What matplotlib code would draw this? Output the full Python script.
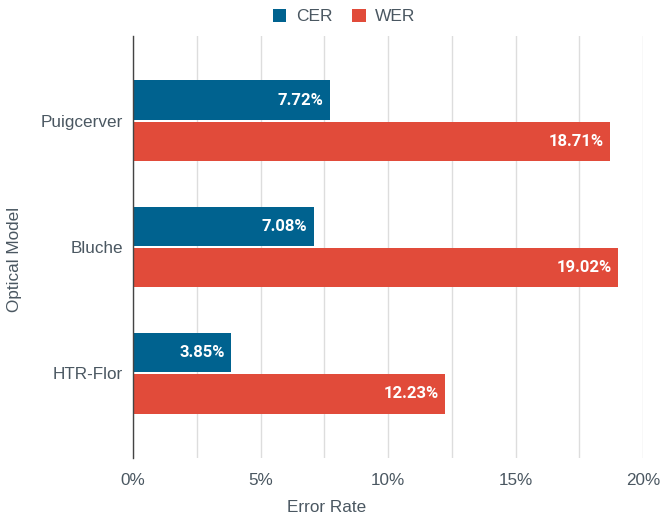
import matplotlib
matplotlib.use("Agg")
import matplotlib.pyplot as plt
import numpy as np
from matplotlib.ticker import MultipleLocator, FuncFormatter

models = ["Puigcerver", "Bluche", "HTR-Flor"]
cer = [7.72, 7.08, 3.85]
wer = [18.71, 19.02, 12.23]
series_names = ["CER", "WER"]

plt.rcParams['font.family'] = ['Liberation Sans', 'DejaVu Sans']
txt = '#4a5761'
c_cer = '#00628f'
c_wer = '#e14b3a'

fig = plt.figure(figsize=(6.6, 5.21), dpi=100)
ax = fig.add_axes([133/660, 63/521, 510/660, 422/521])

y = np.arange(len(models))
h = 0.31
gap = 0.008
b1 = ax.barh(y - h/2 - gap, cer, height=h, color=c_cer, label=series_names[0])
b2 = ax.barh(y + h/2 + gap, wer, height=h, color=c_wer, label=series_names[1])

for bars, vals in ((b1, cer), (b2, wer)):
    for r, v in zip(bars, vals):
        ax.text(v - 0.25, r.get_y() + r.get_height()/2, f"{v:.2f}%", ha='right', va='center',
                color='white', fontsize=12, fontweight='bold', family=['Roboto', 'DejaVu Sans'])

ax.set_xlim(0, 20)
ax.set_ylim(2.67, -0.67)
ax.set_yticks(y)
ax.set_yticklabels(models)
ax.xaxis.set_major_locator(MultipleLocator(5))
ax.xaxis.set_minor_locator(MultipleLocator(2.5))
ax.xaxis.set_major_formatter(FuncFormatter(lambda v, p: f"{v:g}%"))
ax.grid(axis='x', which='both', color='#dddddd', linewidth=1)
ax.set_axisbelow(True)
for s in ['top', 'right', 'bottom']:
    ax.spines[s].set_visible(False)
ax.spines['left'].set_color('#444444')
ax.spines['left'].set_linewidth(1)
ax.tick_params(axis='both', which='both', length=0, labelsize=12.3, colors=txt)
ax.tick_params(axis='x', pad=11)
ax.tick_params(axis='y', pad=7)
ax.set_xlabel("Error Rate", fontsize=12.3, color=txt)
ax.set_ylabel("Optical Model", fontsize=12.3, color=txt)
ax.xaxis.set_label_coords((327-133)/510, -(508-458)/422)
ax.yaxis.set_label_coords(-(133-15)/510, (458-259)/422)
ax.xaxis.label.set_va('center')
ax.yaxis.label.set_va('center')

leg = fig.legend(handles=[b1, b2], labels=series_names, loc='center',
                 bbox_to_anchor=(344/660, 1 - 16.5/521), ncol=2, frameon=False, fontsize=12.5,
                 handlelength=0.8, handleheight=0.8, handletextpad=0.55, columnspacing=1.1,
                 borderpad=0, borderaxespad=0)
for t in leg.get_texts():
    t.set_color(txt)

fig.savefig("out.png", dpi=100)
